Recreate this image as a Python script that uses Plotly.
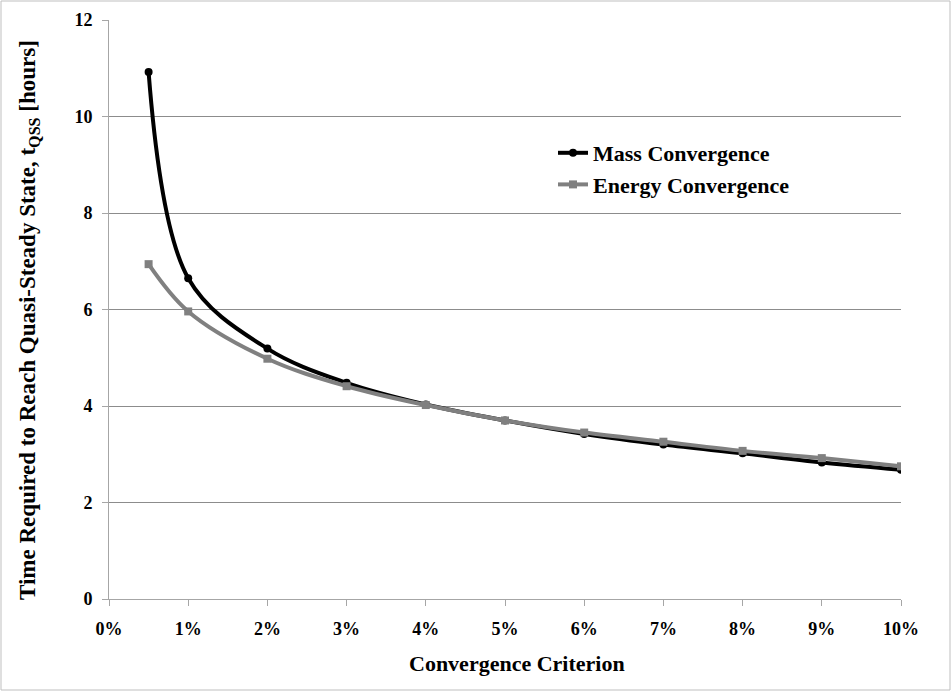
import plotly.graph_objects as go

criterion = [0.005, 0.01, 0.02, 0.03, 0.04, 0.05, 0.06, 0.07, 0.08, 0.09, 0.10]
mass = [10.92, 6.65, 5.19, 4.48, 4.03, 3.70, 3.42, 3.20, 3.02, 2.83, 2.68]
energy = [6.94, 5.96, 4.98, 4.41, 4.02, 3.70, 3.45, 3.26, 3.07, 2.92, 2.75]
x_ticks = [i / 100 for i in range(0, 11)]
x_labels = [f"{i}%" for i in range(0, 11)]
y_ticks = [0, 2, 4, 6, 8, 10, 12]
x_title = "Convergence Criterion"
y_title = "Time Required to Reach Quasi-Steady State, t<sub>QSS</sub> [hours]"

W, H = 951, 691
L, R, T, B = 109, 50, 20, 92
pw, ph = W - L - R, H - T - B
Y0 = H - B  # pixel row of the x axis

FAM = "Liberation Serif"

fig = go.Figure()
fig.add_trace(go.Scatter(
    x=criterion, y=mass, name="<b>Mass Convergence</b>", mode="lines+markers",
    line=dict(color="black", width=4, shape="spline", smoothing=1.0),
    marker=dict(symbol="circle", size=8, color="black"),
))
fig.add_trace(go.Scatter(
    x=criterion, y=energy, name="<b>Energy Convergence</b>", mode="lines+markers",
    line=dict(color="#808080", width=4, shape="spline", smoothing=1.0),
    marker=dict(symbol="square", size=8, color="#808080"),
))

fig.update_layout(
    width=W, height=H,
    margin=dict(l=L, r=R, t=T, b=B, autoexpand=False),
    paper_bgcolor="white", plot_bgcolor="white",
    font=dict(size=18, family=FAM, color="black"),
    showlegend=True,
    legend=dict(x=(553 - L) / pw, y=(Y0 - 132) / ph, xanchor="left", yanchor="top",
                font=dict(size=22, family=FAM, color="black"), bgcolor="rgba(0,0,0,0)",
                itemwidth=30, tracegroupgap=0),
    xaxis=dict(range=[0, 0.10], tickvals=x_ticks, ticktext=[f"<b>{t}</b>" for t in x_labels],
               showline=True, linecolor="#a6a6a6", linewidth=1,
               ticks="outside", ticklen=6, tickcolor="#a6a6a6",
               showgrid=False, zeroline=False,
               ticklabelstandoff=7,
               tickfont=dict(size=18, family=FAM, color="black")),
    yaxis=dict(range=[0, 12], tickvals=y_ticks, ticktext=[f"<b>{t}</b>" for t in y_ticks],
               showline=True, linecolor="#a6a6a6", linewidth=1,
               ticks="outside", ticklen=6, tickcolor="#a6a6a6",
               showgrid=True, gridcolor="#8c8c8c", gridwidth=1, zeroline=False,
               ticklabelstandoff=6,
               tickfont=dict(size=18, family=FAM, color="black")),
)

fig.add_annotation(text=f"<b>{x_title}</b>", xref="paper", yref="paper",
                   x=(517 - L) / pw, y=(Y0 - 663) / ph, xanchor="center", yanchor="middle",
                   showarrow=False, font=dict(size=22, family=FAM, color="black"))
fig.add_annotation(text=f"<b>{y_title}</b>", xref="paper", yref="paper", textangle=-90,
                   x=(29 - L) / pw, y=(Y0 - 320) / ph, xanchor="center", yanchor="middle",
                   showarrow=False, font=dict(size=23, family=FAM, color="black"))

fig.add_shape(type="rect", xref="paper", yref="paper",
              x0=(1 - L) / pw, x1=(W - 1 - L) / pw,
              y0=(Y0 - (H - 1)) / ph, y1=(Y0 - 1) / ph,
              line=dict(color="#bfbfbf", width=1), layer="below")

fig.write_html("out.html", config={"displayModeBar": False},
               post_script="document.body.style.margin='0';")
